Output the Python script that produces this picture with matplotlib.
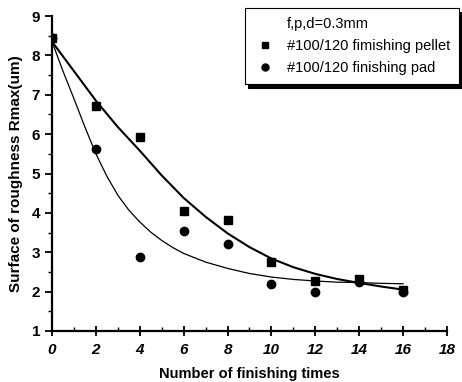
import matplotlib
matplotlib.use("Agg")
import matplotlib.pyplot as plt
from matplotlib.lines import Line2D
from matplotlib.ticker import MultipleLocator

# Data points
times = [0, 2, 4, 6, 8, 10, 12, 14, 16]
pellet = [8.45, 6.71, 5.92, 4.04, 3.83, 2.74, 2.26, 2.31, 2.03]
pad = [8.45, 5.62, 2.89, 3.55, 3.22, 2.20, 1.98, 2.25, 1.98]

# Trend curves
pellet_curve_x = [0, 1, 2, 3, 4, 5, 6, 7, 8, 9, 10, 11, 12, 13, 14, 15, 16]
pellet_curve = [8.35, 7.6, 6.85, 6.18, 5.58, 4.95, 4.38, 3.9, 3.48, 3.13,
                2.84, 2.62, 2.45, 2.32, 2.22, 2.13, 2.05]
pad_curve_x = [0, 0.5, 1, 1.5, 2, 2.5, 3, 3.5, 4, 4.5, 5, 5.5, 6,
               7, 8, 9, 10, 11, 12, 13, 14, 15, 16]
pad_curve = [8.35, 7.6, 6.9, 6.18, 5.5, 4.93, 4.45, 4.07, 3.77, 3.51, 3.3,
             3.12, 2.97, 2.75, 2.59, 2.46, 2.37, 2.31, 2.27, 2.24, 2.23,
             2.21, 2.2]

legend_title = "f,p,d=0.3mm"
label_pellet = "#100/120 fimishing pellet"
label_pad = "#100/120 finishing pad"
xlabel = "Number of finishing times"
ylabel = "Surface of roughness Rmax(um)"

plt.rcParams['font.family'] = ['Liberation Sans', 'DejaVu Sans']

fig = plt.figure(figsize=(4.62, 3.82), dpi=100)
ax = fig.add_axes([52/462, 1-331/382, (447-52)/462, (331-16)/382])

ax.plot(pellet_curve_x, pellet_curve, color='black', lw=1.5)
ax.plot(pad_curve_x, pad_curve, color='black', lw=0.9)
ax.plot(times, pellet, 's', color='black', ms=6, ls='none')
ax.plot(times, pad, 'o', color='black', ms=6, ls='none')

ax.set_xlim(0, 18)
ax.set_ylim(1, 9)
ax.xaxis.set_major_locator(MultipleLocator(2))
ax.xaxis.set_minor_locator(MultipleLocator(1))
ax.yaxis.set_major_locator(MultipleLocator(1))
ax.yaxis.set_minor_locator(MultipleLocator(0.5))
ax.spines['top'].set_visible(False)
ax.spines['right'].set_visible(False)
for s in ['left', 'bottom']:
    ax.spines[s].set_linewidth(1.6)
ax.tick_params(axis='x', which='major', direction='inout', length=7, width=1.3,
               labelsize=11, pad=5)
ax.tick_params(axis='x', which='minor', direction='in', length=3, width=1)
ax.tick_params(axis='y', which='major', direction='out', length=5, width=1.3,
               labelsize=11)
ax.tick_params(axis='y', which='minor', direction='out', length=3, width=1)
for lab in ax.get_xticklabels():
    lab.set_fontweight('bold')
    lab.set_fontstyle('italic')
for lab in ax.get_yticklabels():
    lab.set_fontweight('bold')

ax.set_xlabel(xlabel, fontsize=10.5, fontweight='bold', labelpad=7)
ax.set_ylabel(ylabel, fontsize=11, fontweight='bold', labelpad=6)

handles = [Line2D([], [], ls='none', marker=None),
           Line2D([], [], ls='none', marker='s', color='black', ms=5),
           Line2D([], [], ls='none', marker='o', color='black', ms=5)]
leg = fig.legend(handles, [legend_title, label_pellet, label_pad],
                 loc='upper left', bbox_to_anchor=(245/462, 1-8/382),
                 fontsize=10.5, frameon=True, fancybox=False,
                 shadow={'ox': 2, 'oy': -3, 'color': 'black', 'alpha': 1},
                 handlelength=1.6, handletextpad=0.7, borderpad=0.6,
                 labelspacing=0.55, borderaxespad=0)
leg.get_frame().set_edgecolor('black')
leg.get_frame().set_linewidth(0.8)

fig.savefig('out.png', dpi=100)
